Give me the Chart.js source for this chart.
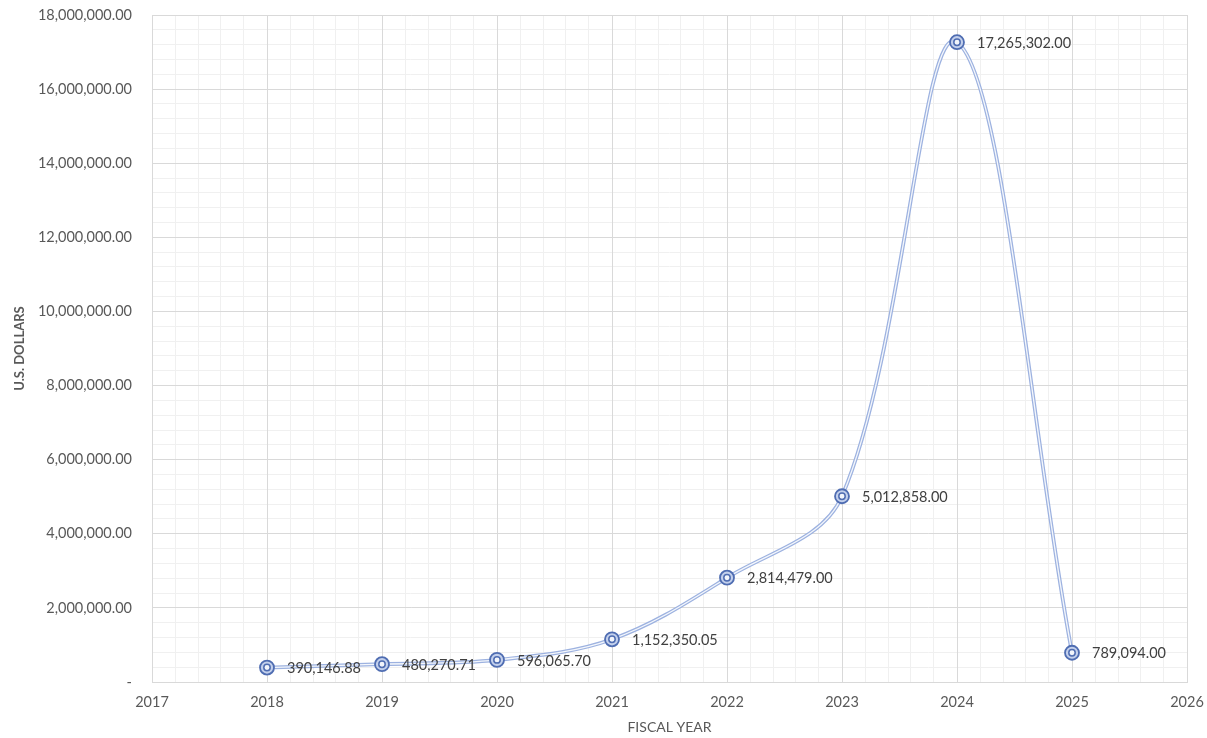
<!DOCTYPE html>
<html>
<head>
<meta charset="utf-8">
<script src="https://cdn.jsdelivr.net/npm/chart.js@4/dist/chart.umd.min.js"></script>
<style>
  html, body { margin: 0; padding: 0; background: #fff; }
  #wrap { width: 1207px; height: 738px; position: relative; }
</style>
</head>
<body>
<div id="wrap"><canvas id="chart"></canvas></div>
<script>
const years = [2018, 2019, 2020, 2021, 2022, 2023, 2024, 2025];
const dollars = [390146.88, 480270.71, 596065.70, 1152350.05, 2814479.00, 5012858.00, 17265302.00, 789094.00];
const xRange = [2017, 2026];
const yRange = [0, 18000000];

const points = years.map((y, i) => ({ x: y, y: dollars[i] }));

function money(v) {
  return v.toLocaleString("en-US", { minimumFractionDigits: 2, maximumFractionDigits: 2 });
}

// value labels to the right of each marker
const valueLabels = {
  id: "valueLabels",
  afterDatasetsDraw(chart) {
    const ctx = chart.ctx;
    const meta = chart.getDatasetMeta(2);
    ctx.save();
    ctx.font = "14.5px Lato";
    ctx.fillStyle = "#404040";
    ctx.textAlign = "left";
    ctx.textBaseline = "middle";
    meta.data.forEach((pt, i) => {
      ctx.fillText(money(dollars[i]), pt.x + 20, pt.y + 1);
    });
    ctx.restore();
  },
};

new Chart(document.getElementById("chart"), {
  type: "line",
  data: {
    datasets: [
      {
        data: points,
        order: 4,
        borderColor: "#9DB2E0",
        borderWidth: 3.8,
        tension: 0.35,
        pointRadius: 0,
        fill: false,
      },
      {
        data: points,
        order: 3,
        borderColor: "#F4F7FC",
        borderWidth: 1.3,
        tension: 0.35,
        pointRadius: 0,
        fill: false,
      },
      {
        data: points,
        order: 2,
        showLine: false,
        pointRadius: 7,
        pointBorderWidth: 1.8,
        pointBorderColor: "#4F6DB2",
        pointBackgroundColor: "#C3D0EC",
      },
      {
        data: points,
        order: 1,
        showLine: false,
        pointRadius: 3.2,
        pointBorderWidth: 1.5,
        pointBorderColor: "#4F6DB2",
        pointBackgroundColor: "#F2F5FB",
      },
    ],
  },
  options: {
    responsive: true,
    maintainAspectRatio: false,
    animation: false,
    layout: {
      autoPadding: false,
      padding: { top: 15, right: 20, left: 12, bottom: 0 },
    },
    plugins: {
      legend: { display: false },
      tooltip: { enabled: false },
    },
    scales: {
      xMinor: {
        type: "linear",
        position: "bottom",
        min: xRange[0],
        max: xRange[1],
        z: -1,
        ticks: { display: false, stepSize: 0.2 },
        grid: { color: "#F0F0F0", lineWidth: 1, drawTicks: false },
        border: { display: false },
        afterFit: (s) => { s.height = 0; },
      },
      yMinor: {
        type: "linear",
        position: "left",
        min: yRange[0],
        max: yRange[1],
        z: -1,
        ticks: { display: false, stepSize: 400000 },
        grid: { color: "#F0F0F0", lineWidth: 1, drawTicks: false },
        border: { display: false },
        afterFit: (s) => { s.width = 0; },
      },
      x: {
        type: "linear",
        min: xRange[0],
        max: xRange[1],
        afterFit: (s) => { s.height = 56; },
        ticks: {
          stepSize: 1,
          color: "#595959",
          font: { family: "Lato", size: 14.5 },
          padding: 0,
          callback: (v) => String(v),
        },
        grid: { color: "#D9D9D9", lineWidth: 1, drawTicks: true, tickLength: 12, tickColor: "rgba(0,0,0,0)" },
        border: { display: true, color: "#D9D9D9" },
        title: {
          display: true,
          text: "FISCAL YEAR",
          color: "#595959",
          font: { family: "Lato", size: 14 },
          padding: { top: 0, bottom: 2 },
        },
      },
      y: {
        type: "linear",
        min: yRange[0],
        max: yRange[1],
        afterFit: (s) => { s.width = 140; },
        ticks: {
          stepSize: 2000000,
          color: "#595959",
          font: { family: "Lato", size: 14.5 },
          padding: 0,
          callback: (v) => (v === 0 ? "-" : money(v)),
        },
        grid: { color: "#D9D9D9", lineWidth: 1, drawTicks: true, tickLength: 20, tickColor: "rgba(0,0,0,0)" },
        border: { display: true, color: "#D9D9D9" },
        title: {
          display: true,
          text: "U.S. DOLLARS",
          color: "#595959",
          font: { family: "Lato", size: 13, weight: "bold" },
          padding: { top: 0, bottom: 0 },
        },
      },
    },
  },
  plugins: [valueLabels],
});
</script>
</body>
</html>
